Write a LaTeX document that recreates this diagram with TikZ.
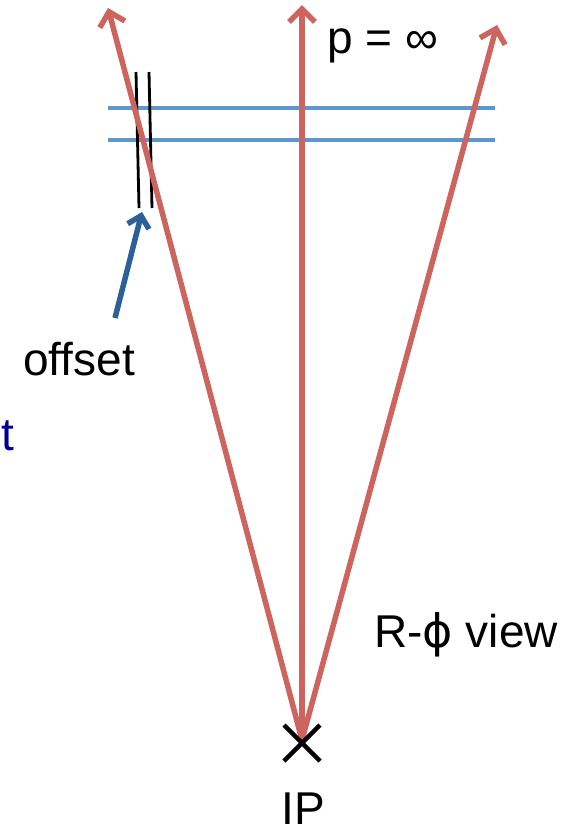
\documentclass[tikz,border=0pt]{standalone}
\usepackage{fontspec}
\setmainfont{Liberation Sans}
\newfontfamily\symfont{DejaVu Sans}
\usepackage{xcolor}
\usetikzlibrary{arrows.meta, calc}

\definecolor{trackred}{RGB}{206,100,94}
\definecolor{layerblue}{RGB}{96,150,206}
\definecolor{pointblue}{RGB}{44,96,152}
\definecolor{cutblue}{RGB}{0,0,150}

\begin{document}
\begin{tikzpicture}[
    x=1pt, y=-1pt,
    track/.style={line width=5.5pt, draw=trackred,
        -{Straight Barb[length=13pt, width=26pt]}},
    layer/.style={line width=4.5pt, draw=layerblue},
    offs/.style={line width=2.8pt, draw=black},
    pointer/.style={line width=5.5pt, draw=pointblue,
        -{Straight Barb[length=11pt, width=22pt]}},
    lbl/.style={inner sep=0pt, anchor=base, font=\fontsize{46}{50}\selectfont},
]
\useasboundingbox (0,0) rectangle (576,831);

% Interaction point and track ends
\coordinate (ip) at (302,740);
\coordinate (tipL) at (108,8);
\coordinate (tipC) at (302,5);
\coordinate (tipR) at (497,25);

% Detector layers
\coordinate (lay1w) at (108,108);
\coordinate (lay1e) at (495,108);
\coordinate (lay2w) at (108,140);
\coordinate (lay2e) at (495,140);
\draw[layer] (lay1w) -- (lay1e);
\draw[layer] (lay2w) -- (lay2e);

% Offset marks
\coordinate (off1t) at (136,72);
\coordinate (off1b) at (139,208);
\coordinate (off2t) at (149,72);
\coordinate (off2b) at (152,208);
\draw[offs] (off1t) -- (off1b);
\draw[offs] (off2t) -- (off2b);

% Tracks
\draw[track] (ip) -- (tipL);
\draw[track] (ip) -- (tipC);
\draw[track] (ip) -- (tipR);

% IP cross
\draw[line width=4.5pt] ($(ip)+(-18,-15)$) -- ($(ip)+(18,21)$);
\draw[line width=4.5pt] ($(ip)+(-18,21)$) -- ($(ip)+(18,-15)$);

% Labels
\node[lbl] (offset) at (79,375) {offset};
\node[lbl] (pinf) at (383,53) {p = ∞};
\node[lbl] (view) at (466,647) {R-{\symfont ϕ} view};
\node[lbl] (iplbl) at (303,824) {IP};
\node[lbl, anchor=base east, text=cutblue] (cut) at (14,450) {t};

% Pointer to the offset
\coordinate (ptrs) at (115,318);
\coordinate (ptre) at (142,212);
\draw[pointer] (ptrs) -- (ptre);

\end{tikzpicture}
\end{document}
